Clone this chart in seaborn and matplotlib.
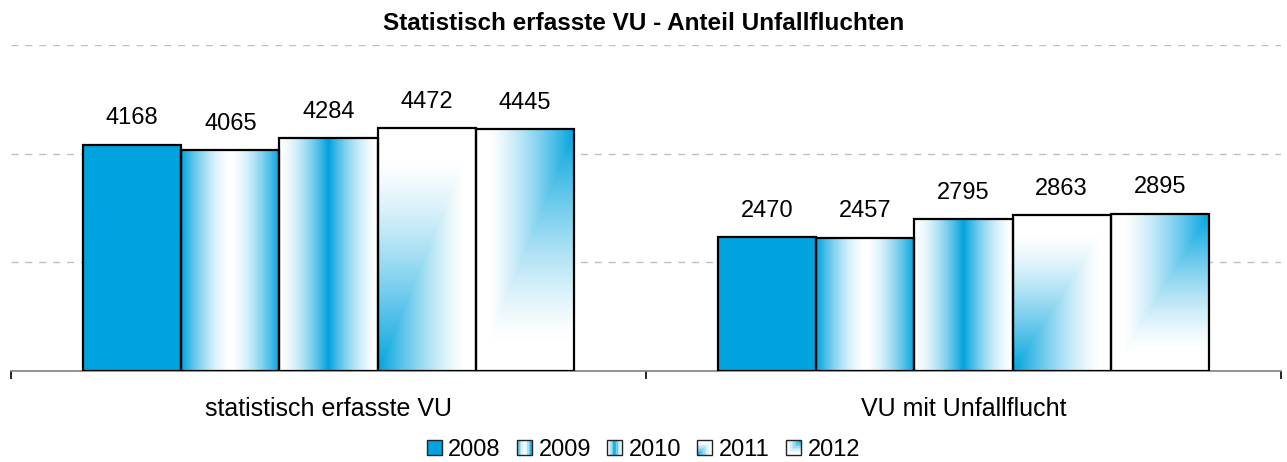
import numpy as np
import pandas as pd
import matplotlib
matplotlib.use("Agg")
import matplotlib.pyplot as plt
from matplotlib.patches import Rectangle
from matplotlib.legend_handler import HandlerBase
import seaborn as sns

categories = ["statistisch erfasste VU", "VU mit Unfallflucht"]
years = ["2008", "2009", "2010", "2011", "2012"]
values_2008 = [4168, 2470]
values_2009 = [4065, 2457]
values_2010 = [4284, 2795]
values_2011 = [4472, 2863]
values_2012 = [4445, 2895]
grid_values = [2000, 4000, 6000]

BLUE = np.array([0x00, 0xA3, 0xDE]) / 255.0
WHITE = np.array([1.0, 1.0, 1.0])


def intensity(year, x, y):
    # x, y in [0, 1] (bar-relative); returns blue weight
    if year == "2008":
        return np.ones_like(x)
    if year == "2009":
        return np.abs(2 * x - 1) ** 1.6
    if year == "2010":
        return (1 - np.abs(2 * x - 1)) ** 1.6
    if year == "2011":
        # rectangular "from corner" gradient, blue in lower left corner
        return np.clip(1 - np.maximum(x, y) * 1.15, 0, 1) ** 1.3
    # from upper right corner
    return np.clip(1 - np.maximum(1 - x, 1 - y) * 1.15, 0, 1) ** 1.3


def gradient_img(year, n=150):
    xs, ys = np.meshgrid(np.linspace(0, 1, n), np.linspace(0, 1, n))
    f = intensity(year, xs, ys)[..., None]
    return WHITE * (1 - f) + BLUE * f


rows = []
for yr, vals in zip(years, [values_2008, values_2009, values_2010, values_2011, values_2012]):
    for cat, v in zip(categories, vals):
        rows.append({"Kategorie": cat, "Jahr": yr, "Anzahl": v})
df = pd.DataFrame(rows)

sns.set_theme(style="white")
plt.rcParams["font.family"] = ["Liberation Sans", "DejaVu Sans"]
plt.rcParams["text.color"] = "black"
plt.rcParams["xtick.color"] = "black"

fig = plt.figure(figsize=(12.87, 4.62), dpi=100)
ax = fig.add_axes([11 / 1287, 91 / 462, 1270 / 1287, 326 / 462])

sns.barplot(data=df, x="Kategorie", y="Anzahl", hue="Jahr", order=categories,
            hue_order=years, palette=["white"] * 5, edgecolor="black",
            linewidth=1.6, width=0.773, gap=0, ax=ax, legend=False, zorder=3)

for container, yr in zip(ax.containers, years):
    for patch in container:
        patch.set_facecolor("none")
        x0, y0 = patch.get_x(), patch.get_y()
        w, h = patch.get_width(), patch.get_height()
        im = ax.imshow(gradient_img(yr), extent=[x0, x0 + w, y0, y0 + h],
                       origin="lower", aspect="auto", zorder=2, interpolation="bilinear")
        im.set_clip_path(patch)
    ax.bar_label(container, padding=11, fontsize=17, color="black")

ax.set_xlim(-0.5, 1.5)
ax.set_ylim(0, 6000)
ax.set_aspect("auto")
for g in grid_values:
    ax.axhline(g, color="#BFBFBF", linestyle=(0, (5, 5)), linewidth=1, zorder=1)

for s in ["left", "right", "top"]:
    ax.spines[s].set_visible(False)
ax.spines["bottom"].set_color("#808080")
ax.spines["bottom"].set_linewidth(1.2)
ax.set_yticks([])
ax.set_xlabel("")
ax.set_ylabel("")
ax.set_xticks([0, 1])
ax.set_xticklabels(categories, fontsize=18)
ax.tick_params(axis="x", which="major", bottom=True, length=0, pad=19)
ax.set_xticks([-0.5, 0.5, 1.5], minor=True)
ax.tick_params(axis="x", which="minor", bottom=True, length=6, width=1.2,
               color="black", direction="out")

fig.suptitle("Statistisch erfasste VU - Anteil Unfallfluchten", y=1 - 23 / 462,
             va="center", fontsize=17.5, fontweight="bold")


class GradientHandler(HandlerBase):
    def create_artists(self, legend, orig_handle, xdescent, ydescent, width, height, fontsize, trans):
        yr = orig_handle.get_label()
        artists = []
        n = 10
        size = height
        x0 = -xdescent + (width - size) / 2
        y0 = -ydescent
        for i in range(n):
            for j in range(n):
                f = intensity(yr, np.array((i + 0.5) / n), np.array((j + 0.5) / n))
                c = WHITE * (1 - f) + BLUE * f
                artists.append(Rectangle((x0 + i * size / n, y0 + j * size / n), size / n, size / n,
                                         facecolor=c, edgecolor="none", transform=trans))
        artists.append(Rectangle((x0, y0), size, size, facecolor="none",
                                 edgecolor="#222222", linewidth=1, transform=trans))
        return artists


handles = [Rectangle((0, 0), 1, 1, label=yr) for yr in years]
fig.legend(handles=handles, labels=years, loc="center", bbox_to_anchor=(0.5, 1 - 450 / 462),
           ncol=5, frameon=False, fontsize=17, handlelength=0.6, handleheight=0.6,
           handletextpad=0.3, columnspacing=0.7, borderaxespad=0, borderpad=0,
           handler_map={Rectangle: GradientHandler()})

fig.savefig("out.png", dpi=100)
